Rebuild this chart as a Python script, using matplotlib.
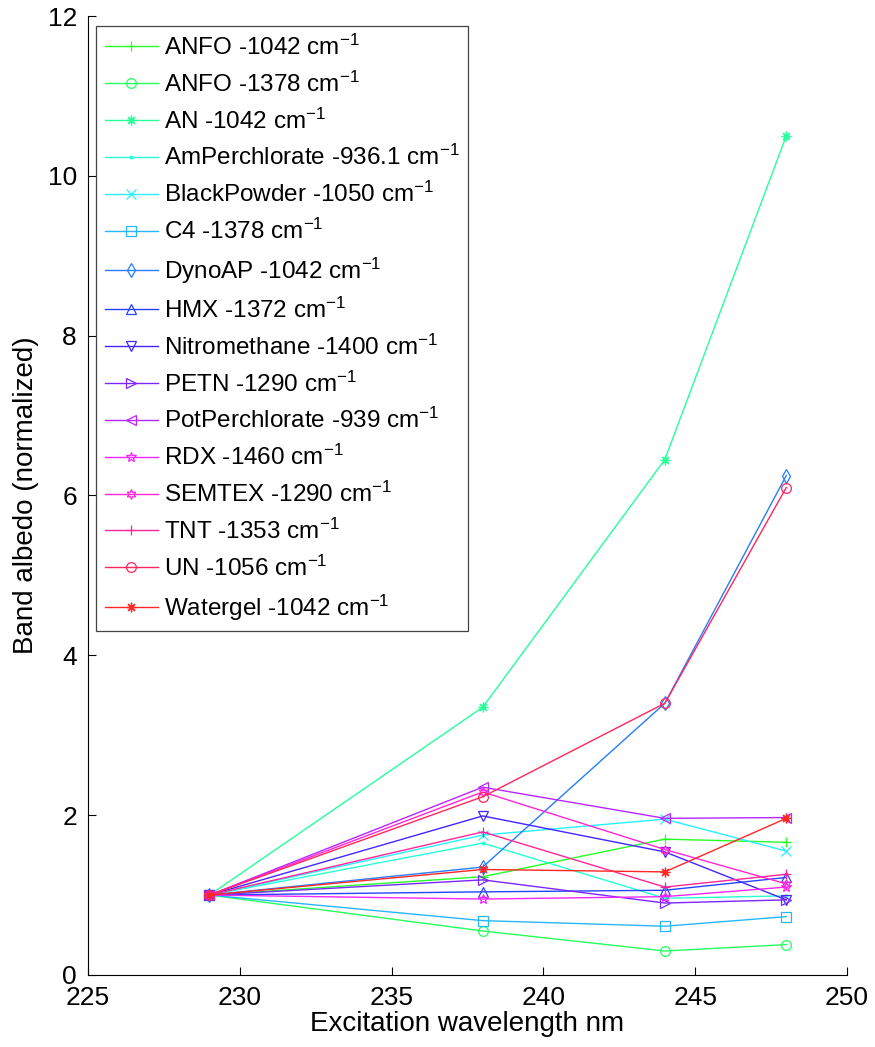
import colorsys
import matplotlib
matplotlib.use("Agg")
import matplotlib.pyplot as plt

plt.rcParams['font.family'] = ['Liberation Sans', 'DejaVu Sans']
plt.rcParams['mathtext.default'] = 'regular'

# excitation wavelengths (nm)
wavelength = [229, 238, 244, 248]

names = ["ANFO -1042", "ANFO -1378", "AN -1042", "AmPerchlorate -936.1",
         "BlackPowder -1050", "C4 -1378", "DynoAP -1042", "HMX -1372",
         "Nitromethane -1400", "PETN -1290", "PotPerchlorate -939",
         "RDX -1460", "SEMTEX -1290", "TNT -1353", "UN -1056",
         "Watergel -1042"]

# normalized band albedo
anfo_1042 = [1.0, 1.23, 1.70, 1.66]
anfo_1378 = [1.0, 0.55, 0.30, 0.38]
an_1042 = [1.0, 3.35, 6.45, 10.5]
amperchlorate = [1.0, 1.65, 0.96, 0.99]
blackpowder = [1.0, 1.75, 1.95, 1.55]
c4 = [1.0, 0.68, 0.61, 0.73]
dynoap = [1.0, 1.35, 3.40, 6.25]
hmx = [1.0, 1.04, 1.06, 1.22]
nitromethane = [1.0, 1.99, 1.54, 0.94]
petn = [1.0, 1.19, 0.90, 0.94]
potperchlorate = [1.0, 2.35, 1.96, 1.97]
rdx = [1.0, 0.95, 0.98, 1.10]
semtex = [1.0, 2.29, 1.57, 1.14]
tnt = [1.0, 1.79, 1.10, 1.26]
un = [1.0, 2.23, 3.40, 6.10]
watergel = [1.0, 1.32, 1.29, 1.96]

series = [anfo_1042, anfo_1378, an_1042, amperchlorate, blackpowder, c4,
          dynoap, hmx, nitromethane, petn, potperchlorate, rdx, semtex,
          tnt, un, watergel]

# matlab-like marker set (asterisk, pentagram, hexagram done by hand)
asterisk = (8, 2, 0)
markers = ['+', 'o', asterisk, '.', 'x', 's', 'd', '^', 'v', '>', '<', '*',
           (6, 1, 0), '+', 'o', asterisk]

fig = plt.figure(figsize=(8.75, 10.47), dpi=100)
ax = fig.add_axes([0.1006, 0.0688, 0.8674, 0.9159])

n = len(series)
for i, (vals, name, mk) in enumerate(zip(series, names, markers)):
    hue = (120 + 240 * i / (n - 1)) / 360.0
    col = colorsys.hsv_to_rgb(hue % 1.0, 0.85, 1.0)
    ms = 4 if mk == '.' else 7
    ax.plot(wavelength, vals, color=col, marker=mk, markersize=ms,
            markerfacecolor='none' if mk != '.' else col,
            markeredgewidth=0.9, linewidth=1.0,
            label=name + ' cm$^{-1}$')

ax.set_xlim(225, 250)
ax.set_ylim(0, 12)
ax.set_xticks([225, 230, 235, 240, 245, 250])
ax.set_yticks([0, 2, 4, 6, 8, 10, 12])
ax.spines['top'].set_visible(False)
ax.spines['right'].set_visible(False)
ax.tick_params(direction='in', length=6, labelsize=19, width=0.8, pad=8)
ax.set_xlabel('Excitation wavelength nm', fontsize=20, labelpad=1)
ax.set_ylabel('Band albedo (normalized)', fontsize=20, labelpad=6)

leg = ax.legend(loc='upper left', bbox_to_anchor=(0.0105, 0.9896),
                borderaxespad=0, fontsize=17.5,
                handlelength=2.2, handletextpad=0.25, labelspacing=0.48,
                borderpad=0.35, fancybox=False, framealpha=1)
leg.get_frame().set_edgecolor('#444444')
leg.get_frame().set_linewidth(0.9)

fig.savefig('out.png', dpi=100)
